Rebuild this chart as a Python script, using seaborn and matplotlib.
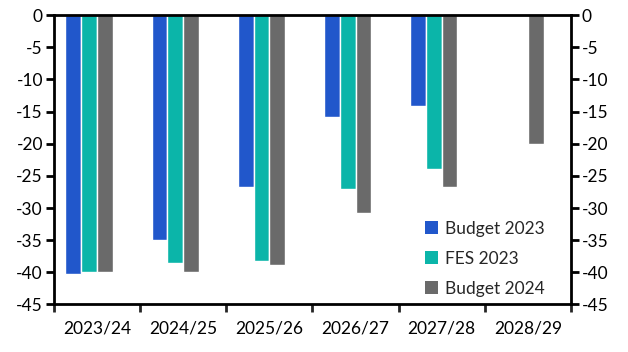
import matplotlib
matplotlib.use("Agg")
import matplotlib.pyplot as plt
import seaborn as sns
import pandas as pd
import numpy as np

categories = ["2023/24", "2024/25", "2025/26", "2026/27", "2027/28", "2028/29"]
budget_2023 = [-40.2, -35.0, -26.8, -15.8, -14.1, np.nan]
fes_2023 = [-40.0, -38.5, -38.3, -27.1, -23.9, np.nan]
budget_2024 = [-40.0, -39.9, -38.9, -30.8, -26.8, -20.0]
series_names = ["Budget 2023", "FES 2023", "Budget 2024"]
colors = ["#2157CB", "#0BB5A9", "#6A6A6A"]

rows = []
for name, vals in zip(series_names, [budget_2023, fes_2023, budget_2024]):
    for c, v in zip(categories, vals):
        rows.append({"year": c, "series": name, "value": v})
# empty fourth slot to reproduce the group offset
for c in categories:
    rows.append({"year": c, "series": "_pad", "value": np.nan})
df = pd.DataFrame(rows)

sns.set_style("white")
plt.rcParams["font.family"] = ["Lato", "DejaVu Sans"]

fig = plt.figure(figsize=(6.28, 3.52), dpi=100)
ax = fig.add_axes([0.086, 0.135, 0.823, 0.822])

sns.barplot(data=df, x="year", y="value", hue="series",
            hue_order=series_names + ["_pad"],
            palette=colors + ["#ffffff"], width=0.735, saturation=1,
            errorbar=None, ax=ax, legend=False)

ax.set_ylim(-45, 0)
ax.set_xlim(-0.5, len(categories) - 0.5)
ax.set_xlabel("")
ax.set_ylabel("")
yt = list(range(0, -50, -5))
ax.set_yticks(yt)
ax.set_yticklabels([str(v) for v in yt])
ax.set_xticks(range(len(categories)))
ax.set_xticklabels(categories)
ax.set_xticks(np.arange(-0.5, len(categories), 1.0), minor=True)

for s in ax.spines.values():
    s.set_visible(True)
    s.set_color("black")
    s.set_linewidth(2)

fs = 12.5
ax.tick_params(axis="y", which="major", left=True, right=True,
               labelleft=True, labelright=True, direction="out",
               length=6, width=2, labelsize=fs, colors="black", pad=2)
ax.tick_params(axis="x", which="major", bottom=False, labelsize=fs,
               pad=8, colors="black")
ax.tick_params(axis="x", which="minor", bottom=True, direction="out",
               length=6, width=2)

from matplotlib.patches import Patch
handles = [Patch(facecolor=c, edgecolor="none") for c in colors]
ax.legend(handles, series_names, loc="lower right", frameon=False,
          fontsize=fs, handlelength=0.75, handleheight=0.75,
          handletextpad=0.4, labelspacing=0.8,
          bbox_to_anchor=(0.98, -0.027))

fig.savefig("out.png", dpi=100)
